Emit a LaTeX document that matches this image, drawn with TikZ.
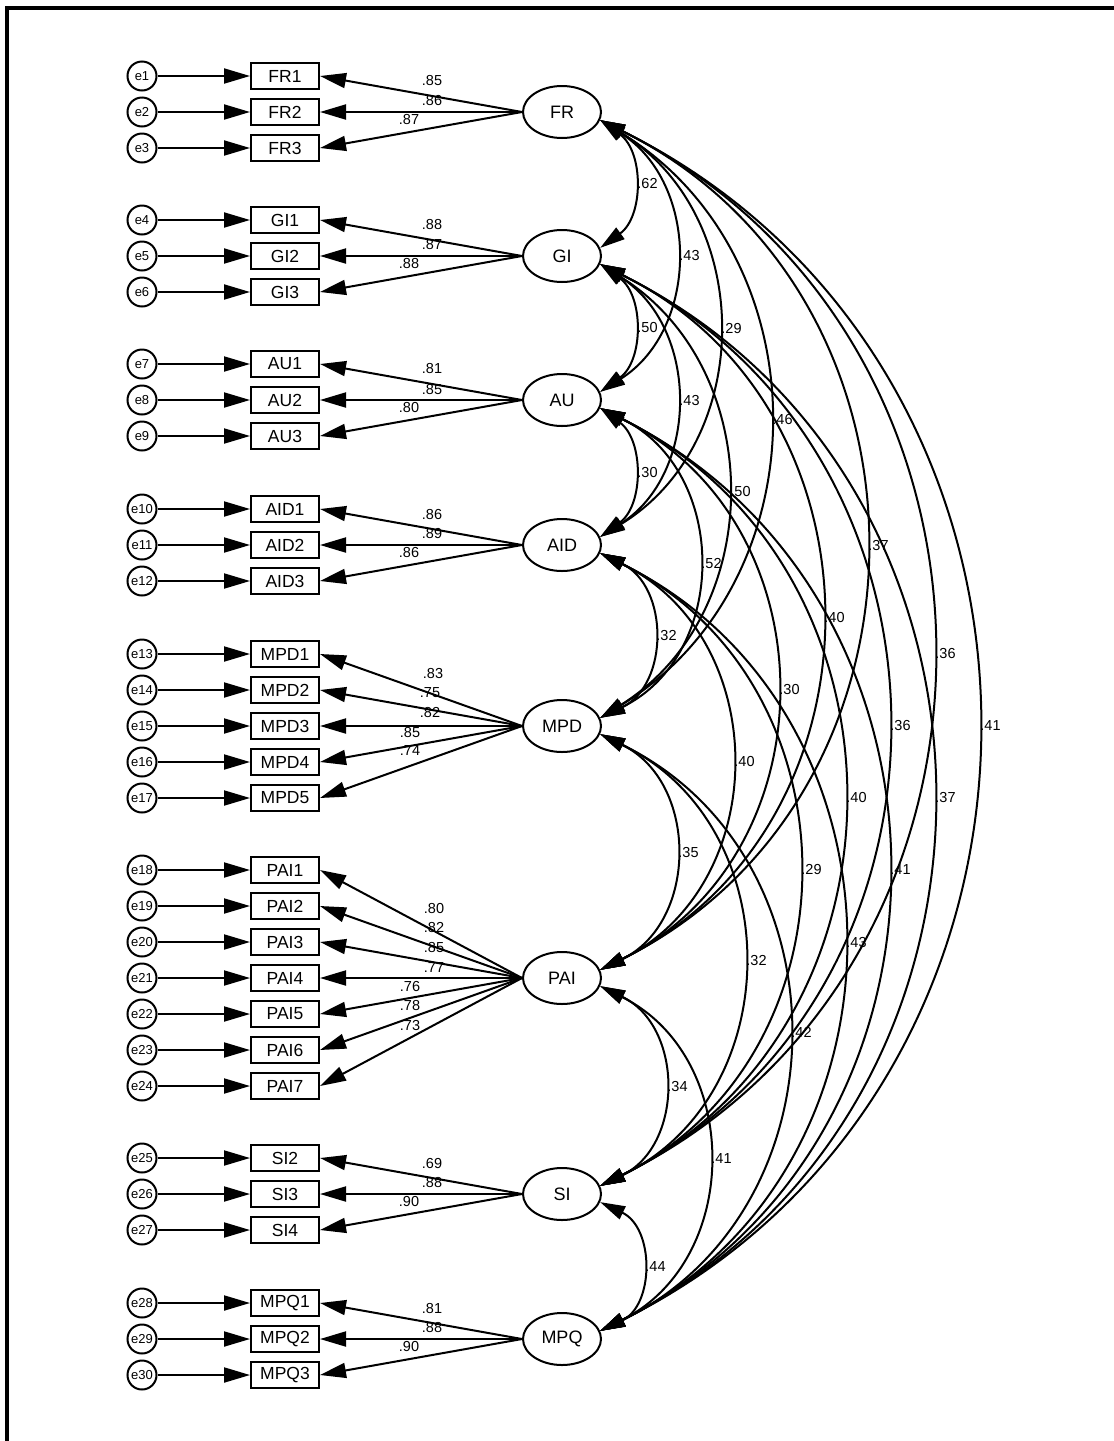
\documentclass[tikz,border=0pt]{standalone}
\usepackage{fontspec}
\setmainfont{Liberation Sans}
\usetikzlibrary{arrows.meta,shapes.geometric}
\begin{document}
\begin{tikzpicture}[x=1pt,y=-1pt,
  every node/.style={inner sep=0pt},
  lat/.style={draw, ellipse, line width=2pt, minimum width=78pt, minimum height=52pt, font=\fontsize{18}{18}\selectfont},
  obs/.style={draw, rectangle, line width=2pt, minimum width=68pt, minimum height=26pt, font=\fontsize{17.5}{17.5}\selectfont},
  err/.style={draw, circle, line width=2pt, minimum size=29pt, font=\fontsize{13}{13}\selectfont},
  arr/.style={line width=2pt, -{Triangle[length=26pt,width=15pt]}},
  cov/.style={line width=2pt, {Triangle[length=25pt,width=14pt]}-{Triangle[length=25pt,width=14pt]}},
  lbl/.style={font=\fontsize{14.5}{14.5}\selectfont}
]
\useasboundingbox (0,0) rectangle (1114,1441);
\draw[line width=4pt, line join=miter] (1118,8) -- (7,8) -- (7,1445);

% latent variables
\foreach \n/\y in {FR/112, GI/256, AU/400, AID/545, MPD/726, PAI/978, SI/1194, MPQ/1339}
  \node[lat] (\n) at (562,\y) {\n};

% indicators and errors
\foreach \ind/\y/\e in {FR1/76/e1, FR2/112/e2, FR3/148/e3,
  GI1/220/e4, GI2/256/e5, GI3/292/e6,
  AU1/364/e7, AU2/400/e8, AU3/436/e9,
  AID1/509/e10, AID2/545/e11, AID3/581/e12,
  MPD1/654/e13, MPD2/690/e14, MPD3/726/e15, MPD4/762/e16, MPD5/798/e17,
  PAI1/870/e18, PAI2/906/e19, PAI3/942/e20, PAI4/978/e21, PAI5/1014/e22, PAI6/1050/e23, PAI7/1086/e24,
  SI2/1158/e25, SI3/1194/e26, SI4/1230/e27,
  MPQ1/1303/e28, MPQ2/1339/e29, MPQ3/1375/e30} {
  \node[obs] (\ind) at (285,\y) {\ind};
  \node[err] (\e) at (142,\y) {\e};
  \draw[arr] (\e) -- (\ind);
}

% loadings
\foreach \lat/\ind/\lx/\ly/\tx in {
  FR/FR1/432/81/.85, FR/FR2/432/101/.86, FR/FR3/409/120/.87,
  GI/GI1/432/225/.88, GI/GI2/432/245/.87, GI/GI3/409/264/.88,
  AU/AU1/432/369/.81, AU/AU2/432/389/.85, AU/AU3/409/408/.80,
  AID/AID1/432/514/.86, AID/AID2/432/533/.89, AID/AID3/409/552/.86,
  MPD/MPD1/433/673/.83, MPD/MPD2/430/693/.75, MPD/MPD3/430/712/.82, MPD/MPD4/410/732/.85, MPD/MPD5/410/751/.74,
  PAI/PAI1/434/908/.80, PAI/PAI2/434/927/.82, PAI/PAI3/434/947/.85, PAI/PAI4/434/967/.77,
  PAI/PAI5/410/986/.76, PAI/PAI6/410/1005/.78, PAI/PAI7/410/1025/.73,
  SI/SI2/432/1163/.69, SI/SI3/432/1182/.88, SI/SI4/409/1201/.90,
  MPQ/MPQ1/432/1308/.81, MPQ/MPQ2/432/1327/.88, MPQ/MPQ3/409/1346/.90} {
  \draw[arr] (\lat.west) -- (\ind.east);
  \node[lbl] at (\lx,\ly) {\tx};
}

% covariances
\foreach \u/\l/\yu/\yl/\lx/\tx in {
  FR/GI/112/256/646/.62, FR/AU/112/400/688/.43, FR/AID/112/545/730/.29,
  FR/MPD/112/726/781/.46, FR/PAI/112/978/877/.37, FR/SI/112/1194/944/.36,
  FR/MPQ/112/1339/989/.41,
  GI/AU/256/400/646/.50, GI/AID/256/545/688/.43, GI/MPD/256/726/739/.50,
  GI/PAI/256/978/833/.40, GI/SI/256/1194/899/.36, GI/MPQ/256/1339/944/.37,
  AU/AID/400/545/646/.30, AU/MPD/400/726/710/.52, AU/PAI/400/978/788/.30,
  AU/SI/400/1194/855/.40, AU/MPQ/400/1339/899/.41,
  AID/MPD/545/726/665/.32, AID/PAI/545/978/743/.40, AID/SI/545/1194/810/.29,
  AID/MPQ/545/1339/855/.43,
  MPD/PAI/726/978/687/.35, MPD/SI/726/1194/755/.32, MPD/MPQ/726/1339/800/.42,
  PAI/SI/978/1194/676/.34, PAI/MPQ/978/1339/720/.41,
  SI/MPQ/1194/1339/654/.44} {
  \pgfmathsetmacro\hh{(\yl-\yu-15.8)/2}
  \pgfmathsetmacro\rr{(\lx-14-599.2)/\hh}
  \pgfmathsetmacro\th{2*atan(\rr)}
  \pgfmathsetmacro\dd{2*\hh*(1+\rr*\rr)/3}
  \pgfmathsetmacro\aa{90-\th}
  \draw[cov] (\u.-12) .. controls +(\aa:\dd) and +(-\aa:\dd) .. (\l.12)
    node[lbl, pos=0.5, anchor=west, xshift=3.5pt] {\tx};
}
\end{tikzpicture}
\end{document}
